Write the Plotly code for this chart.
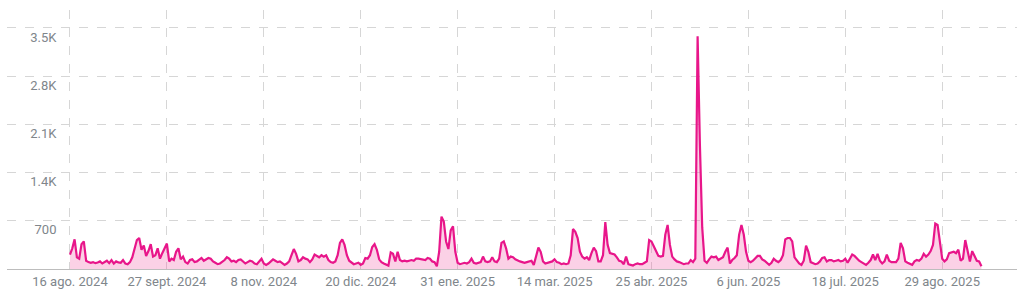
import pandas as pd
import plotly.graph_objects as go

start_date = "2024-08-16"

# daily values (segments of consecutive days)
seg1 = [210, 300, 430, 170, 150, 360, 400, 120, 100, 90, 100, 85, 95, 110, 80, 100, 120, 85, 130, 80,
        110, 95, 90, 130, 80, 70, 100, 170, 300, 420, 450, 280, 340, 190, 260, 360, 180, 200, 300, 150,
        230, 300, 370, 110, 150, 130, 250, 300, 140, 180, 100, 80, 130, 140]
seg2 = [100, 110, 130, 160, 120, 140, 160, 150, 110, 90, 70, 80, 100, 130, 170, 150, 110, 120, 100, 130,
        140, 110, 80, 100, 120, 110, 80, 70, 110, 150, 80, 60, 80, 110, 140, 120, 100, 110, 80, 60,
        80, 110, 200, 290, 220, 110, 130, 170, 150, 140, 100, 140, 210, 190, 170, 200, 180]
seg3 = [200, 130, 100, 90, 110, 200, 380, 430, 350, 200, 120, 90, 70, 80, 90, 60, 80, 160, 150, 200,
        320, 360, 280, 140, 100, 80, 60, 50, 240, 220, 110, 250, 130, 110, 120, 110, 120, 130, 120, 150,
        150, 140, 140, 130, 160, 150, 110, 100, 40, 250, 760, 690, 400, 290, 560, 620, 250, 90, 70, 80]
seg4 = [90, 80, 100, 150, 90, 80, 90, 100, 180, 110, 100, 110, 170, 110, 100, 150, 380, 400, 300, 150,
        180, 170, 140, 120, 110, 100, 90, 100, 110, 120, 60, 200, 310, 250, 110, 80, 90, 90, 110, 140,
        100, 90, 70, 80, 70, 80, 200, 580, 540, 450, 250, 180, 150]
seg5 = [170, 130, 230, 310, 260, 110, 110, 200, 680, 350, 230, 220, 210, 170, 120, 110, 70, 180, 70, 60,
        50, 70, 80, 70, 70, 90, 110, 420, 400, 330, 250, 190, 180, 190, 500, 640, 350, 180, 140, 110,
        100, 90, 70, 80, 80, 130, 100, 150, 3380, 1800, 600, 120, 90, 140, 180, 170]
seg6 = [180, 130, 150, 170, 250, 310, 80, 130, 160, 200, 500, 640, 500, 250, 120, 100, 120, 150, 190, 190,
        140, 120, 90, 60, 90, 150, 120, 100, 130, 200, 430, 450, 450, 400, 170, 120, 80, 60, 120, 340,
        250, 100, 90, 70, 80, 110, 160, 170, 110, 130, 130, 110, 120, 130, 110, 120]
seg7 = [150, 90, 150, 210, 190, 150, 120, 100, 80, 60, 90, 130, 210, 130, 220, 120, 80, 110, 210, 120,
        100, 100, 100, 150, 380, 300, 110, 90, 80, 60, 110, 130, 120, 150, 220, 180, 210, 260, 350, 660,
        640, 400, 150, 110, 140, 230, 240, 250, 230, 280, 120, 150, 420, 250, 110, 260, 180, 120, 110, 40]

values = seg1 + seg2 + seg3 + seg4 + seg5 + seg6 + seg7
dates = pd.date_range(start_date, periods=len(values), freq="D")

tick_dates = ["2024-08-16", "2024-09-27", "2024-11-08", "2024-12-20", "2025-01-31",
              "2025-03-14", "2025-04-25", "2025-06-06", "2025-07-18", "2025-08-29"]
tick_labels = ["16 ago. 2024", "27 sept. 2024", "8 nov. 2024", "20 dic. 2024", "31 ene. 2025",
               "14 mar. 2025", "25 abr. 2025", "6 jun. 2025", "18 jul. 2025", "29 ago. 2025"]
y_ticks = [700, 1400, 2100, 2800, 3500]
y_labels = ["700", "1.4K", "2.1K", "2.8K", "3.5K"]

LINE = "#e8168a"
FILL = "rgba(240, 90, 165, 0.28)"
GRID = "#d6d6d6"
TEXT = "#80868b"
YMAX = 3761

fig = go.Figure()
fig.add_trace(go.Scatter(x=dates, y=values, mode="lines", fill="tozeroy",
                         line=dict(color=LINE, width=2.2), fillcolor=FILL,
                         showlegend=False, hoverinfo="skip"))
# invisible copy on the label axis so the overlay axis is drawn
fig.add_trace(go.Scatter(x=dates, y=values, mode="lines", yaxis="y2",
                         line=dict(width=0), opacity=0, showlegend=False, hoverinfo="skip"))

fig.update_layout(
    width=1024, height=291,
    margin=dict(l=7, r=7, t=10, b=22, autoexpand=False),
    paper_bgcolor="white", plot_bgcolor="white",
    font=dict(family="Roboto", size=13, color=TEXT),
    xaxis=dict(
        range=["2024-07-19 17:00", "2025-09-30 10:00"], automargin=False,
        tickmode="array", tickvals=tick_dates, ticktext=tick_labels,
        showgrid=True, gridcolor=GRID, griddash="dash", gridwidth=1,
        showline=True, linecolor="#bdbdbd", linewidth=1,
        ticks="", zeroline=False, tickfont=dict(size=13, color=TEXT),
    ),
    yaxis=dict(
        range=[0, YMAX], tickmode="array", tickvals=y_ticks, automargin=False,
        showticklabels=False, showgrid=True, gridcolor=GRID, griddash="dash",
        gridwidth=1, zeroline=False, ticks="",
    ),
    yaxis2=dict(
        range=[0, YMAX], overlaying="y", anchor="free", side="left", position=0.049,
        tickmode="array", tickvals=y_ticks, ticktext=y_labels, automargin=False,
        showgrid=False, zeroline=False, showline=False, ticks="",
        ticklabelshift=9, tickfont=dict(size=13, color=TEXT),
    ),
)

fig.write_html("out.html")
